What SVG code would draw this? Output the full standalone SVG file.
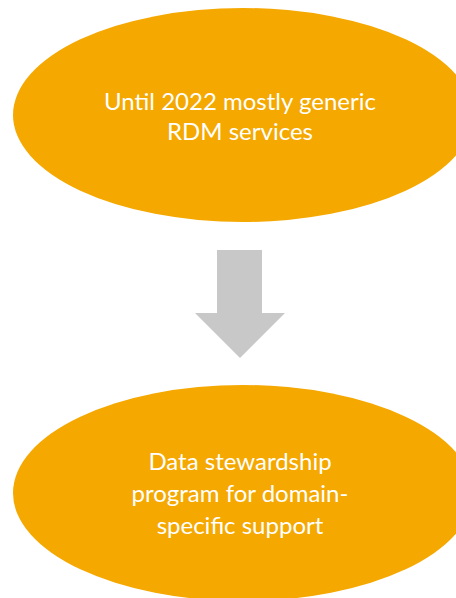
<svg xmlns="http://www.w3.org/2000/svg" width="456" height="598" viewBox="0 0 456 598">
<style>
.node{fill:#F5A800}
.lbl{font-family:Lato,"Open Sans",sans-serif;font-size:24px;fill:#ffffff;text-anchor:middle}
.conn{fill:#C8C8C8}
</style>
<rect width="456" height="598" fill="#ffffff"/>
<g id="node-top">
<ellipse class="node" cx="243" cy="115" rx="230" ry="107"/>
<text class="lbl" x="240" y="110">Until 2022 mostly generic</text>
<text class="lbl" x="240" y="140">RDM services</text>
</g>
<g id="connectors">
<polygon class="conn" points="217,250 262,250 262,313 285,313 240,358 195,313 217,313"/>
</g>
<g id="node-bottom">
<ellipse class="node" cx="243" cy="493" rx="230" ry="108"/>
<text class="lbl" x="240" y="470">Data stewardship</text>
<text class="lbl" x="240" y="502">program for domain-</text>
<text class="lbl" x="240" y="534">specific support</text>
</g>
</svg>
